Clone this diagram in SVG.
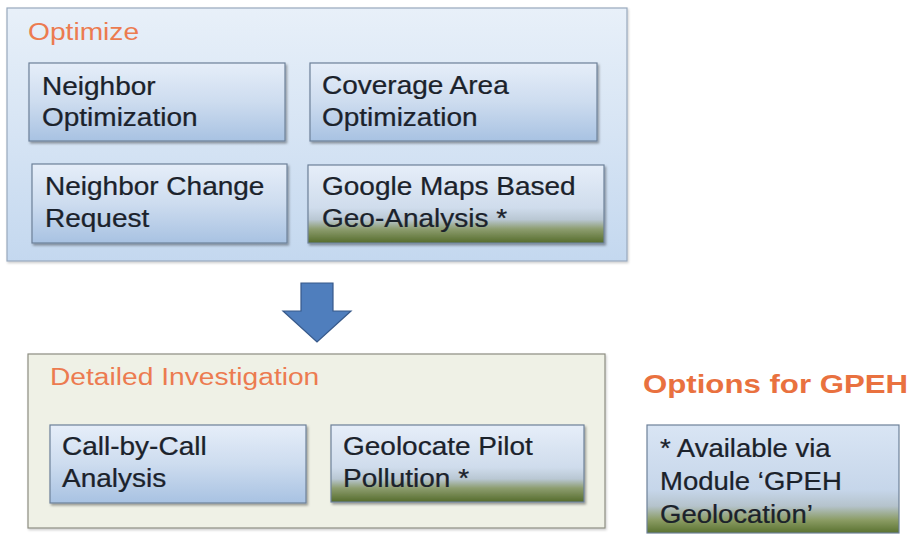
<svg xmlns="http://www.w3.org/2000/svg" width="911" height="536" viewBox="0 0 911 536">
  <defs>
    <linearGradient id="gOuter" x1="0" y1="0" x2="0" y2="1">
      <stop offset="0" stop-color="#e8f0f9"/>
      <stop offset="1" stop-color="#c4d8ef"/>
    </linearGradient>
    <linearGradient id="gBox" x1="0" y1="0" x2="0" y2="1">
      <stop offset="0" stop-color="#e6eef9"/>
      <stop offset="0.5" stop-color="#cddcef"/>
      <stop offset="1" stop-color="#a8c2e2"/>
    </linearGradient>
    <linearGradient id="gGeo" x1="0" y1="0" x2="0" y2="1">
      <stop offset="0" stop-color="#e6eef9"/>
      <stop offset="0.55" stop-color="#cfdcec"/>
      <stop offset="0.7" stop-color="#b9c7d3"/>
      <stop offset="0.82" stop-color="#8d9d6f"/>
      <stop offset="1" stop-color="#556c2c"/>
    </linearGradient>
    <linearGradient id="gNote" x1="0" y1="0" x2="0" y2="1">
      <stop offset="0" stop-color="#d9e5f4"/>
      <stop offset="0.6" stop-color="#c6d6ea"/>
      <stop offset="0.75" stop-color="#b5c3cc"/>
      <stop offset="0.88" stop-color="#8b9c64"/>
      <stop offset="1" stop-color="#5a7230"/>
    </linearGradient>
    <filter id="shadow" x="-5%" y="-5%" width="112%" height="120%">
      <feDropShadow dx="1.5" dy="2" stdDeviation="1.2" flood-color="#000" flood-opacity="0.35"/>
    </filter>
    <filter id="softShadow" x="-5%" y="-5%" width="110%" height="110%">
      <feDropShadow dx="1" dy="1.5" stdDeviation="1" flood-color="#000" flood-opacity="0.2"/>
    </filter>
  </defs>
  <style>
    text { font-family: "Liberation Sans", Arial, sans-serif; }
    .body { font-size: 25px; fill: #1b222b; stroke: #1b222b; stroke-width: 0.25; }
    .title { font-size: 24.5px; fill: #ec7b50; }
    .heading { font-size: 26px; font-weight: bold; fill: #e9713f; }
    .outerBlue { fill: url(#gOuter); stroke: #98a9bd; stroke-width: 1.2; }
    .outerGreen { fill: #eff1e6; stroke: #8d8e82; stroke-width: 1.2; }
    .box { fill: url(#gBox); stroke: #6d8098; stroke-width: 1.2; }
    .geo { fill: url(#gGeo); stroke: #6d8098; stroke-width: 1.2; }
    .note { fill: url(#gNote); stroke: #6d8098; stroke-width: 1.2; }
    .arrow { fill: #4f7ebd; stroke: #37598a; stroke-width: 1.2; }
  </style>

  <rect width="911" height="536" fill="#ffffff"/>

  <!-- Optimize group -->
  <g id="optimize">
    <rect class="outerBlue" x="7" y="8" width="620" height="253" filter="url(#softShadow)"/>
    <text class="title" transform="translate(28 40) scale(1.15 1)">Optimize</text>
  </g>

  <g id="neighbor-optimization">
    <rect class="box" x="29" y="63" width="256" height="78" filter="url(#shadow)"/>
    <text class="body" transform="translate(42 95) scale(1.12 1)"><tspan x="0" y="0">Neighbor</tspan><tspan x="0" y="31">Optimization</tspan></text>
  </g>

  <g id="coverage-area-optimization">
    <rect class="box" x="310" y="63" width="287" height="78" filter="url(#shadow)"/>
    <text class="body" transform="translate(322 94) scale(1.12 1)"><tspan x="0" y="0">Coverage Area</tspan><tspan x="0" y="32">Optimization</tspan></text>
  </g>

  <g id="neighbor-change-request">
    <rect class="box" x="32" y="164" width="255" height="79" filter="url(#shadow)"/>
    <text class="body" transform="translate(45 195) scale(1.12 1)"><tspan x="0" y="0">Neighbor Change</tspan><tspan x="0" y="32">Request</tspan></text>
  </g>

  <g id="google-maps-geo-analysis">
    <rect class="geo" x="308" y="165" width="296" height="78" filter="url(#shadow)"/>
    <text class="body" transform="translate(322 195) scale(1.12 1)"><tspan x="0" y="0">Google Maps Based</tspan><tspan x="0" y="32">Geo-Analysis *</tspan></text>
  </g>

  <!-- Detailed Investigation group -->
  <g id="detailed-investigation">
    <rect class="outerGreen" x="28" y="354" width="577" height="174" filter="url(#softShadow)"/>
    <text class="title" transform="translate(50 385) scale(1.15 1)">Detailed Investigation</text>
  </g>

  <g id="call-by-call-analysis">
    <rect class="box" x="50" y="425" width="256" height="78" filter="url(#shadow)"/>
    <text class="body" transform="translate(62 455) scale(1.12 1)"><tspan x="0" y="0">Call-by-Call</tspan><tspan x="0" y="32">Analysis</tspan></text>
  </g>

  <g id="geolocate-pilot-pollution">
    <rect class="geo" x="331" y="425" width="253" height="77" filter="url(#shadow)"/>
    <text class="body" transform="translate(343 455) scale(1.12 1)"><tspan x="0" y="0">Geolocate Pilot</tspan><tspan x="0" y="32">Pollution *</tspan></text>
  </g>

  <!-- GPEH options legend -->
  <g id="gpeh-options">
    <text class="heading" transform="translate(643 393) scale(1.2 1)">Options for GPEH</text>
  </g>

  <g id="gpeh-note">
    <rect class="note" x="647" y="425" width="252" height="108"/>
    <text class="body" transform="translate(660 457) scale(1.1 1)"><tspan x="0" y="0">* Available via</tspan><tspan x="0" y="33">Module ‘GPEH</tspan><tspan x="0" y="66">Geolocation’</tspan></text>
  </g>

  <!-- Flow arrow between the two stages -->
  <g id="connectors">
    <polygon class="arrow" points="301,283 333,283 333,311 351,311 317,342 283,311 301,311"/>
  </g>
</svg>
